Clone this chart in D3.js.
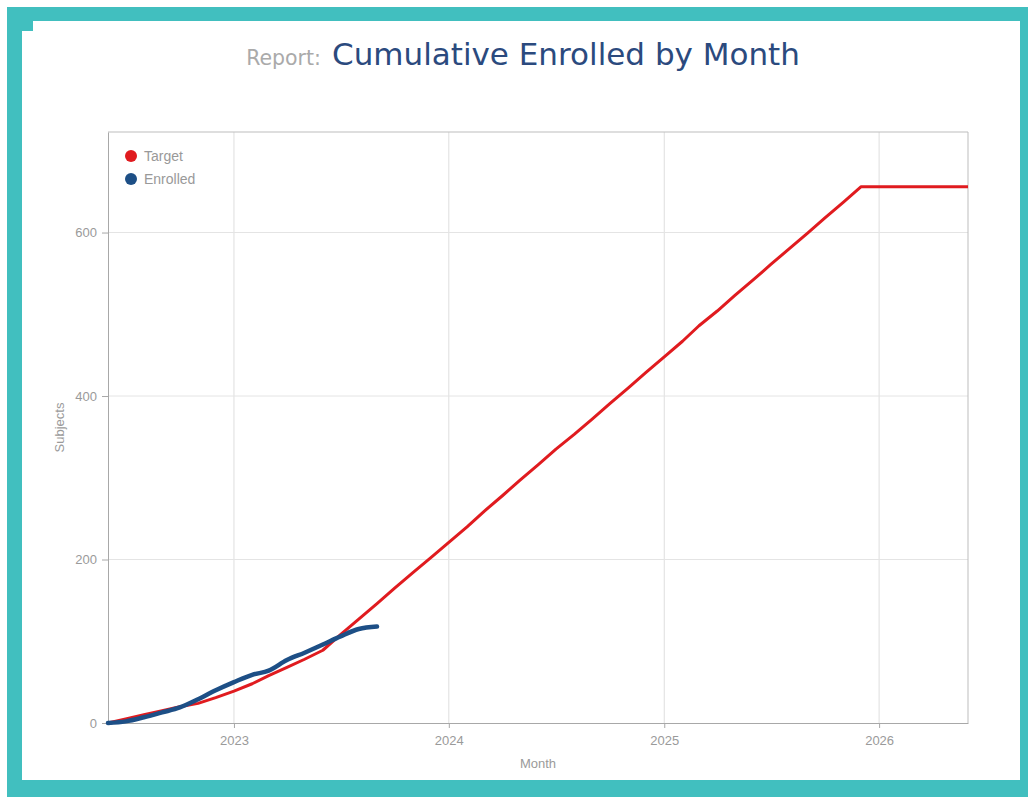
<!DOCTYPE html>
<html><head><meta charset="utf-8">
<script src="https://cdn.jsdelivr.net/npm/d3@7/dist/d3.min.js"></script>
<style>body{margin:0;background:#fff;}svg{display:block;}</style>
</head><body>
<svg id="c" width="1028" height="797"></svg>
<script>
// ---- data ----
const targetMonths = ["2022-06","2022-07","2022-08","2022-09","2022-10","2022-11","2022-12",
 "2023-01","2023-02","2023-03","2023-04","2023-05","2023-06","2023-07","2023-08","2023-09","2023-10","2023-11","2023-12",
 "2024-01","2024-02","2024-03","2024-04","2024-05","2024-06","2024-07","2024-08","2024-09","2024-10","2024-11","2024-12",
 "2025-01","2025-02","2025-03","2025-04","2025-05","2025-06","2025-07","2025-08","2025-09","2025-10","2025-11","2025-12",
 "2026-01","2026-02","2026-03","2026-04","2026-05","2026-06"];
const targetValues = [0,5,10,15,20,24,31,
 39,48,58,68,78,89,108,127,146,165,184,202,
 221,240,259,278,297,316,335,353,372,391,410,429,
 448,467,486,504,523,542,561,580,599,618,637,656,
 656,656,656,656,656,656];
const enrolledMonths = ["2022-06","2022-07","2022-08","2022-09","2022-10","2022-11","2022-12",
 "2023-01","2023-02","2023-03","2023-04","2023-05","2023-06","2023-07","2023-08","2023-09"];
const enrolledValues = [0,2,7,13,19,29,40,50,59,64,77,86,96,106,115,118];
const yTicks = [0,200,400,600];
const xTickYears = ["2023","2024","2025","2026"];
const seriesNames = ["Target","Enrolled"];
const seriesColors = ["#e01b1f","#1d4f86"];

const parse = d3.timeParse("%Y-%m");
const svg = d3.select("#c");

// frame
svg.append("rect").attr("x",7).attr("y",7).attr("width",1021).attr("height",790).attr("fill","#41bfbf");
svg.append("rect").attr("x",22).attr("y",21).attr("width",998).attr("height",759).attr("fill","#fff");
svg.append("rect").attr("x",22).attr("y",21).attr("width",11).attr("height",10).attr("fill","#41bfbf");

// title
svg.append("text").attr("x",321).attr("y",65).attr("text-anchor","end")
  .style("font-family","'DejaVu Sans', Verdana, sans-serif").style("font-size","20.5px")
  .attr("fill","#aaaaaa").text("Report:");
svg.append("text").attr("x",332).attr("y",65).attr("text-anchor","start")
  .style("font-family","'DejaVu Sans', Verdana, sans-serif").style("font-size","31px")
  .attr("fill","#2b4a7e").text("Cumulative Enrolled by Month");

const L=108,R=968,T=132,B=723;
const x = d3.scaleTime().domain([parse("2022-06"),parse("2026-06")]).range([L,R]);
const y = d3.scaleLinear().domain([0,723]).range([B,T]);

const g = svg.append("g");
// grid
g.selectAll(".vg").data(xTickYears).enter().append("line")
  .attr("x1",d=>x(new Date(+d,0,1))).attr("x2",d=>x(new Date(+d,0,1)))
  .attr("y1",T).attr("y2",B).attr("stroke","#dedede").attr("stroke-width",1);
g.selectAll(".hg").data(yTicks.filter(d=>d>0)).enter().append("line")
  .attr("x1",L).attr("x2",R).attr("y1",d=>y(d)).attr("y2",d=>y(d))
  .attr("stroke","#e4e4e4").attr("stroke-width",1);
// border top/right
g.append("line").attr("x1",L).attr("x2",R).attr("y1",T).attr("y2",T).attr("stroke","#bdbdbd");
g.append("line").attr("x1",R).attr("x2",R).attr("y1",T).attr("y2",B).attr("stroke","#bdbdbd");

// axes
const xAxis = d3.axisBottom(x).tickValues(xTickYears.map(d=>new Date(+d,0,1)))
  .tickFormat(d3.timeFormat("%Y")).tickSize(5).tickSizeOuter(0);
const yAxis = d3.axisLeft(y).tickValues(yTicks).tickSize(6).tickSizeOuter(0);
const gx = svg.append("g").attr("transform",`translate(0,${B})`).call(xAxis);
const gy = svg.append("g").attr("transform",`translate(${L},0)`).call(yAxis);
[gx,gy].forEach(a=>{
  a.select(".domain").attr("stroke","#a8a8a8");
  a.selectAll(".tick line").attr("stroke","#a8a8a8");
  a.selectAll(".tick text").attr("fill","#9a9a9a").style("font-family","'Liberation Sans', Arial, sans-serif").style("font-size","13px");
});
gx.selectAll(".tick text").attr("dy","1.05em");
gy.selectAll(".tick text").attr("dx","-2");

// axis titles
svg.append("text").attr("x",(L+R)/2).attr("y",768).attr("text-anchor","middle")
  .attr("fill","#9a9a9a").style("font-family","'Liberation Sans', Arial, sans-serif").style("font-size","13px").text("Month");
svg.append("text").attr("transform",`translate(64,${(T+B)/2}) rotate(-90)`).attr("text-anchor","middle")
  .attr("fill","#9a9a9a").style("font-family","'Liberation Sans', Arial, sans-serif").style("font-size","13px").text("Subjects");

// lines
const tData = targetMonths.map((m,i)=>({d:parse(m),v:targetValues[i]}));
const eData = enrolledMonths.map((m,i)=>({d:parse(m),v:enrolledValues[i]}));
const line = d3.line().x(p=>x(p.d)).y(p=>y(p.v));
svg.append("path").datum(tData).attr("d",line).attr("fill","none")
  .attr("stroke",seriesColors[0]).attr("stroke-width",3).attr("stroke-linejoin","round");
svg.append("path").datum(eData).attr("d",line.curve(d3.curveMonotoneX)).attr("fill","none")
  .attr("stroke",seriesColors[1]).attr("stroke-width",4.5).attr("stroke-linejoin","round").attr("stroke-linecap","round");

// legend
const lg = svg.append("g").attr("transform","translate(131,156)");
seriesNames.forEach((n,i)=>{
  lg.append("circle").attr("cx",0).attr("cy",i*23).attr("r",6).attr("fill",seriesColors[i]);
  lg.append("text").attr("x",13).attr("y",i*23+5).attr("fill","#999999")
    .style("font-family","'Liberation Sans', Arial, sans-serif").style("font-size","14px").text(n);
});
</script>
</body></html>
